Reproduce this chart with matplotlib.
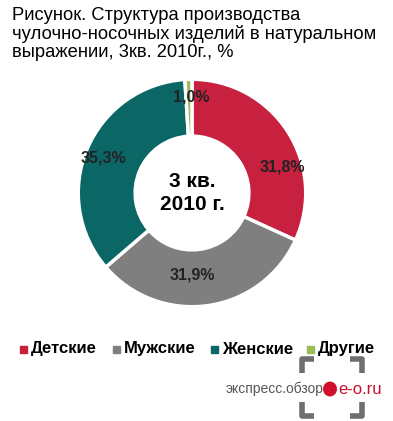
import matplotlib
matplotlib.use("Agg")
import matplotlib.pyplot as plt
from matplotlib.patches import Circle

plt.rcParams['font.family'] = ['Liberation Sans', 'DejaVu Sans']

categories = ['Детские', 'Мужские', 'Женские', 'Другие']
values = [31.8, 31.9, 35.3, 1.0]
labels = ['31,8%', '31,9%', '35,3%', '1,0%']
colors = ['#C8203F', '#7F7F7F', '#0B6666', '#9BBB59']

fig = plt.figure(figsize=(3.93, 4.21), dpi=100)

fig.text(12/393, 1-7/421, 'Рисунок. Структура производства\nчулочно-носочных изделий в натуральном\nвыражении, 3кв. 2010г., %',
         ha='left', va='top', fontsize=13.2, linespacing=1.08)

# donut
ax = fig.add_axes([(192-116)/393, (421-193-116)/421, 232/393, 232/421])
wedges, _ = ax.pie(values, colors=colors, startangle=90, counterclock=False,
                   radius=1.0, wedgeprops=dict(width=0.5, edgecolor='white', linewidth=2.5))
ax.set_aspect('equal')
ax.set_xlim(-1.02, 1.02)
ax.set_ylim(-1.02, 1.02)
ax.axis('off')

label_pos = [(0.79, 0.23), (0.0, -0.72), (-0.78, 0.31), (-0.01, 0.84)]
for (x, y), t in zip(label_pos, labels):
    ax.text(x, y, t, ha='center', va='center', fontsize=11.5, fontweight='bold',
            color='#222222')

ax.text(0, 0, '3 кв.\n2010 г.', ha='center', va='center', fontsize=15,
        fontweight='bold', linespacing=1.3)

# legend
leg_x = [20, 113, 211, 307]
for x, c, name in zip(leg_x, colors, categories):
    fig.patches.append(plt.Rectangle((x/393, 1-353/421), 7/393, 7/421,
                                     transform=fig.transFigure, color=c))
    fig.text((x+11)/393, 1-349/421, name, ha='left', va='center', fontsize=12,
             fontweight='bold')

# logo
gray = '#6f6f6f'
lx0, lx1, ly0, ly1 = 302, 362, 359, 416
for xs, ys in [([lx0, lx0, lx0+12], [ly0+14, ly0, ly0]),
               ([lx1-12, lx1, lx1], [ly0, ly0, ly0+14]),
               ([lx0, lx0, lx0+12], [ly1-14, ly1, ly1]),
               ([lx1-12, lx1, lx1], [ly1, ly1, ly1-14])]:
    fig.add_artist(plt.Line2D([x/393 for x in xs], [1-y/421 for y in ys],
                              color=gray, linewidth=4, solid_capstyle='butt'))
fig.text(226/393, 1-389/421, 'экспресс.обзор', ha='left', va='center',
         fontsize=10, color='#555555')
fig.add_artist(Circle((330/393, 1-389/421), 0.016, transform=fig.transFigure,
                      color='#d0102a'))
fig.text(338/393, 1-389/421, 'e-o.ru', ha='left', va='center',
         fontsize=12, color='#c8102e')

fig.savefig('out.png', dpi=100)
